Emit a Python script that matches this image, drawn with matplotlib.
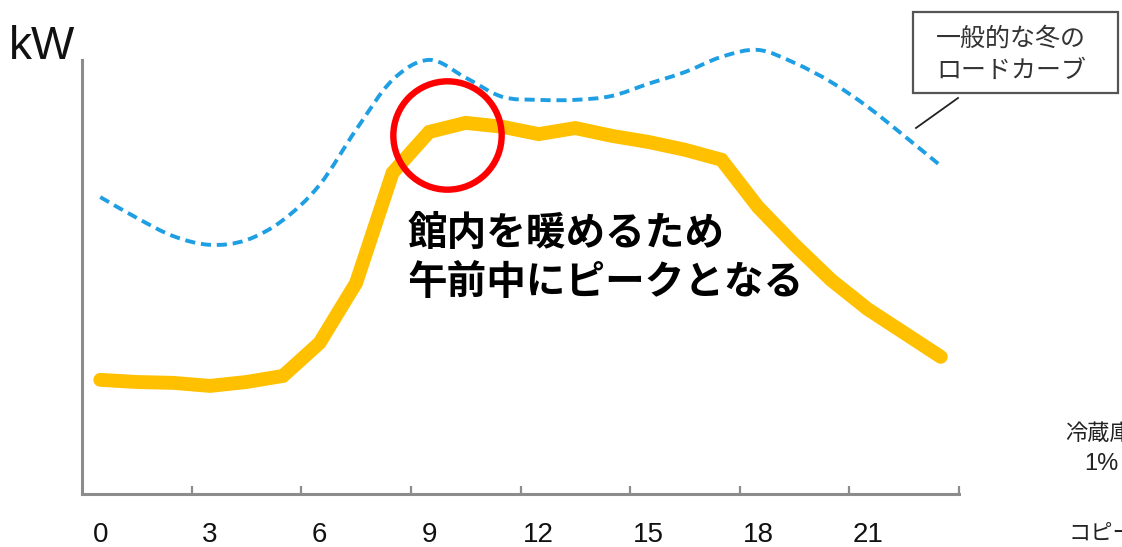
import matplotlib
matplotlib.use('Agg')
import matplotlib.pyplot as plt
from matplotlib.patches import Rectangle, PathPatch
from matplotlib.lines import Line2D
from matplotlib.path import Path

plt.rcParams['font.family'] = ['Liberation Sans', 'Noto Sans CJK JP', 'DejaVu Sans']

# hourly load, arbitrary kW scale (axis drawn up to 100)
hours = list(range(24))
museum_load = [26.3, 25.8, 25.6, 24.9, 25.8, 27.2, 34.8, 48.6, 74.0, 83.4, 85.5, 84.6,
               82.9, 84.3, 82.5, 81.1, 79.3, 77.0, 66.1, 57.4, 49.3, 42.6, 37.1, 31.6]
winter_curve = [68.4, 63.6, 59.4, 57.4, 58.5, 63.1, 71.2, 83.9, 95.4, 100.0, 95.9, 91.5,
                90.8, 90.8, 91.7, 94.5, 97.2, 100.7, 102.3, 99.3, 94.9, 89.2, 82.5, 75.6]
tick_hours = [0, 3, 6, 9, 12, 15, 18, 21]

W, H = 1122, 547
fig = plt.figure(figsize=(W / 100, H / 100), dpi=100)

def fx(px):
    return px / W

def fy(py):
    return 1 - py / H

def smooth_path(x, y):
    # Catmull-Rom style bezier through the points (like a "smoothed line")
    n = len(x)
    verts = [(x[0], y[0])]
    codes = [Path.MOVETO]
    for i in range(n - 1):
        a = max(i - 1, 0)
        d = min(i + 2, n - 1)
        c1 = (x[i] + (x[i + 1] - x[a]) / 6, y[i] + (y[i + 1] - y[a]) / 6)
        c2 = (x[i + 1] - (x[d] - x[i]) / 6, y[i + 1] - (y[d] - y[i]) / 6)
        verts += [c1, c2, (x[i + 1], y[i + 1])]
        codes += [Path.CURVE4] * 3
    return Path(verts, codes)

ax = fig.add_axes([fx(82), fy(494), fx(959) - fx(82), fy(0) - fy(494)])
ax.set_xlim(0, 24)
ax.set_ylim(0, 113.8)

# each hour is drawn at the middle of its slot
xs = [h + 0.5 for h in hours]
ax.add_patch(PathPatch(smooth_path(xs, winter_curve), fill=False, ec='#1E9FE3', lw=2.8,
                       ls=(0, (2.6, 1.5)), clip_on=False))
ax.plot(xs, museum_load, color='#FFC000', lw=10, solid_joinstyle='miter',
        solid_capstyle='round', zorder=3)

# morning peak marker
ax.plot([10.0], [82.7], marker='o', ms=78, mfc='none', mec='#FF0000', mew=4.6, zorder=4)

for side in ['top', 'right']:
    ax.spines[side].set_visible(False)
for side in ['left', 'bottom']:
    ax.spines[side].set_color('#8C8C8C')
    ax.spines[side].set_linewidth(2.2)
ax.spines['left'].set_bounds(0, 100)

ax.set_yticks([])
ax.set_xticks([3, 6, 9, 12, 15, 18, 21, 24])
ax.set_xticklabels([])
ax.tick_params(axis='x', which='major', direction='in', length=6, width=1.6, color='#8C8C8C')
ax.set_xticks([h + 0.5 for h in tick_hours], minor=True)
ax.set_xticklabels([str(h) for h in tick_hours], minor=True)
ax.tick_params(axis='x', which='minor', length=0, pad=20, labelsize=20, labelcolor='#111111')

fig.text(fx(9), fy(47), 'kW', fontsize=33, va='center', ha='left', color='#111111')

ax.text(8.9, 54.4, '館内を暖めるため\n午前中にピークとなる', fontsize=28.5, fontweight='bold',
        family=['Noto Sans CJK JP'], va='center', ha='left', linespacing=1.25, color='black')

# callout box for the dashed curve
fig.patches.append(Rectangle((fx(913), fy(93)), fx(1118) - fx(913), fy(12) - fy(93),
                             transform=fig.transFigure, fill=False, ec='#555555', lw=1.6))
fig.text(fx(1011), fy(55), '一般的な冬の\nロードカーブ', fontsize=18, ha='center', va='center',
         family=['Noto Sans CJK JP'], color='#333333', linespacing=1.3)
fig.lines.append(Line2D([fx(958), fx(916)], [fy(98), fy(128)], transform=fig.transFigure,
                        color='#222222', lw=1.3))

# neighbouring labels running off the right edge
fig.text(fx(1065), fy(433), '冷蔵庫', fontsize=16, ha='left', va='center',
         family=['Noto Sans CJK JP'], color='#222222')
fig.text(fx(1084), fy(464), '1%', fontsize=17, ha='left', va='center', color='#222222')
fig.text(fx(1068), fy(533), 'コピー機', fontsize=16, ha='left', va='center',
         family=['Noto Sans CJK JP'], color='#222222')

fig.savefig('out.png', dpi=100)
